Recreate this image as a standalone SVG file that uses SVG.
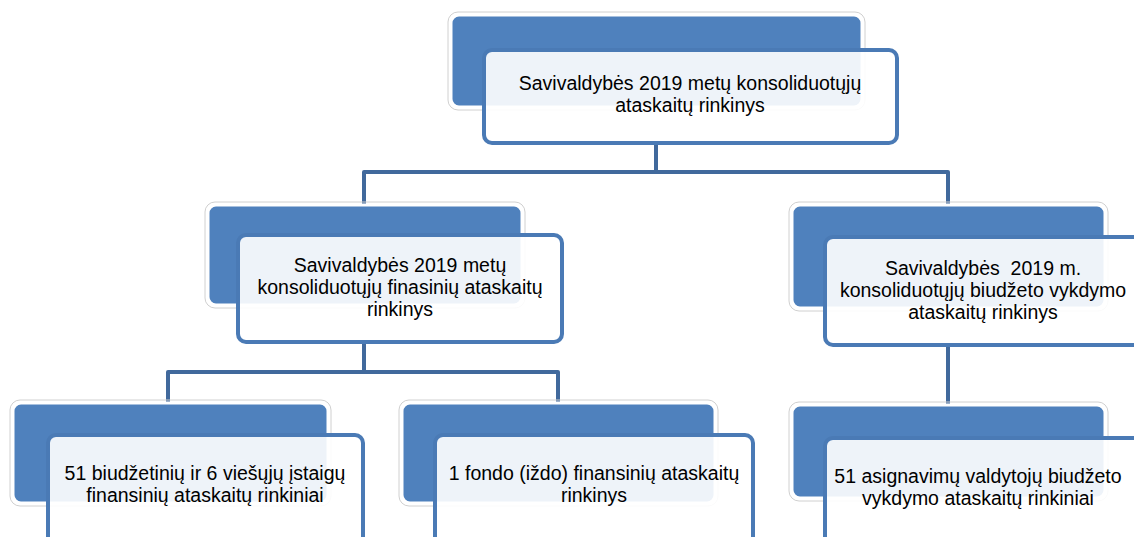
<svg xmlns="http://www.w3.org/2000/svg" width="1134" height="537" viewBox="0 0 1134 537">
<style>
.back{fill:#4F81BD;stroke:#fff;stroke-width:3}
.halo{fill:none;stroke:#d0d0d0;stroke-width:1}
.front{fill:#fff;fill-opacity:0.9;stroke:#4A7AB5;stroke-width:4}
.conn{fill:none;stroke:#41699C;stroke-width:4;stroke-linejoin:round}
text{font-family:"Liberation Sans",Arial,sans-serif;font-size:19.5px;fill:#000;text-anchor:middle}
</style>
<rect width="1134" height="537" fill="#fff"/>
<g id="connectors">
<path class="conn" d="M656,143 V172 M364,205 V172 H948 V205"/>
<path class="conn" d="M364,342 V372 M168,403 V372 H558 V403"/>
<path class="conn" d="M948,345 V405"/>
</g>
<g id="n1">
<rect class="halo" x="448" y="12" width="417" height="98" rx="10"/>
<rect class="back" x="451" y="15" width="411" height="92" rx="8"/>
<rect class="front" x="484" y="50" width="413" height="93" rx="8"/>
<text x="690" y="90">Savivaldybės 2019 metų konsoliduotųjų</text>
<text x="690" y="112">ataskaitų rinkinys</text>
</g>
<g id="n2">
<rect class="halo" x="205" y="202" width="320" height="106" rx="10"/>
<rect class="back" x="208" y="205" width="314" height="100" rx="8"/>
<rect class="front" x="238" y="235" width="324" height="107" rx="8"/>
<text x="400" y="272">Savivaldybės 2019 metų</text>
<text x="400" y="294">konsoliduotųjų finasinių ataskaitų</text>
<text x="400" y="316">rinkinys</text>
</g>
<g id="n3">
<rect class="halo" x="789" y="202" width="319" height="109" rx="10"/>
<rect class="back" x="792" y="205" width="313" height="103" rx="8"/>
<rect class="front" x="825" y="237" width="330" height="108" rx="8"/>
<text x="983" y="275" xml:space="preserve">Savivaldybės  2019 m.</text>
<text x="983" y="297">konsoliduotųjų biudžeto vykdymo</text>
<text x="983" y="319">ataskaitų rinkinys</text>
</g>
<g id="n4">
<rect class="halo" x="10" y="400" width="321" height="106" rx="10"/>
<rect class="back" x="13" y="403" width="315" height="100" rx="8"/>
<rect class="front" x="48" y="435" width="315" height="110" rx="8"/>
<text x="205" y="480">51 biudžetinių ir 6 viešųjų įstaigų</text>
<text x="205" y="502">finansinių ataskaitų rinkiniai</text>
</g>
<g id="n5">
<rect class="halo" x="399" y="400" width="319" height="106" rx="10"/>
<rect class="back" x="402" y="403" width="313" height="100" rx="8"/>
<rect class="front" x="435" y="435" width="318" height="110" rx="8"/>
<text x="594" y="480">1 fondo (iždo) finansinių ataskaitų</text>
<text x="594" y="502">rinkinys</text>
</g>
<g id="n6">
<rect class="halo" x="789" y="402" width="319" height="99" rx="10"/>
<rect class="back" x="792" y="405" width="313" height="93" rx="8"/>
<rect class="front" x="825" y="438" width="330" height="110" rx="8"/>
<text x="978" y="483">51 asignavimų valdytojų biudžeto</text>
<text x="978" y="505">vykdymo ataskaitų rinkiniai</text>
</g>
</svg>
